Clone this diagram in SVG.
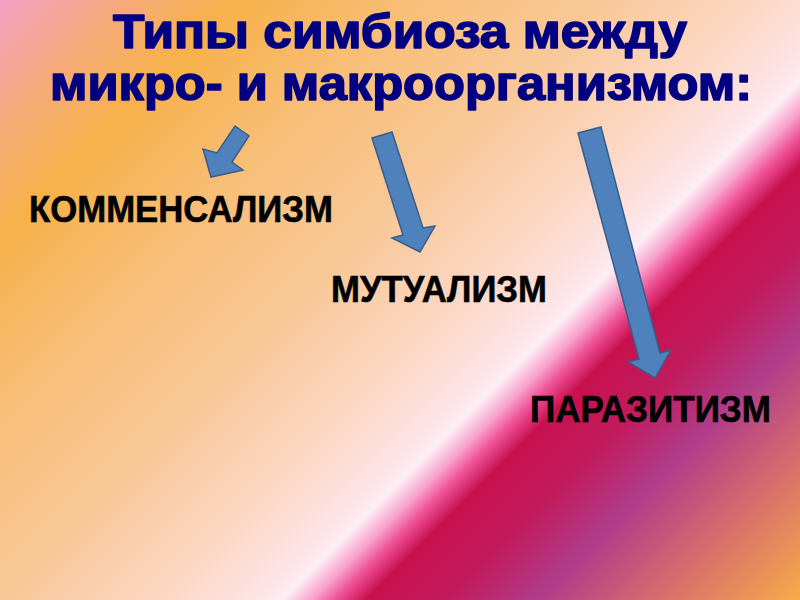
<svg xmlns="http://www.w3.org/2000/svg" width="800" height="600" viewBox="0 0 800 600">
  <defs>
    <linearGradient id="bg" gradientUnits="userSpaceOnUse" x1="0" y1="0" x2="700" y2="700">
      <stop offset="0" stop-color="#f5a0c6"/>
      <stop offset="0.09" stop-color="#f6ab7a"/>
      <stop offset="0.17" stop-color="#f7b14a"/>
      <stop offset="0.29" stop-color="#f8be76"/>
      <stop offset="0.43" stop-color="#f9c898"/>
      <stop offset="0.55" stop-color="#fcd8c6"/>
      <stop offset="0.61" stop-color="#fde4e6"/>
      <stop offset="0.63" stop-color="#fdedf4"/>
      <stop offset="0.65" stop-color="#f8a6cc"/>
      <stop offset="0.668" stop-color="#ef5298"/>
      <stop offset="0.69" stop-color="#c8104e"/>
      <stop offset="0.75" stop-color="#c11c5e"/>
      <stop offset="0.81" stop-color="#b03c8a"/>
      <stop offset="0.89" stop-color="#d4696e"/>
      <stop offset="1" stop-color="#f6ac48"/>
    </linearGradient>
    <style>
      .title { font-family: "Liberation Sans", Arial, sans-serif; font-weight: bold; font-size: 48px; fill: #000080; stroke: #000080; stroke-width: 1.6; stroke-linejoin: round; }
      .label { font-family: "Liberation Sans", Arial, sans-serif; font-weight: bold; font-size: 37px; fill: #000000; stroke: #000000; stroke-width: 0.6; }
      .arrow { fill: #4f81bd; stroke: #385d8a; stroke-width: 1.5; stroke-linejoin: miter; }
    </style>
  </defs>

  <rect x="0" y="0" width="800" height="600" fill="url(#bg)"/>

  <g id="title">
    <text class="title" x="400" y="48" text-anchor="middle" textLength="574" lengthAdjust="spacingAndGlyphs">Типы симбиоза между</text>
    <text class="title" x="401" y="100" text-anchor="middle" textLength="702" lengthAdjust="spacingAndGlyphs">микро- и макроорганизмом:</text>
  </g>

  <g id="commensalism">
    <text class="label" x="29" y="222" textLength="304" lengthAdjust="spacingAndGlyphs">КОММЕНСАЛИЗМ</text>
  </g>
  <g id="mutualism">
    <text class="label" x="331" y="302" textLength="216" lengthAdjust="spacingAndGlyphs">МУТУАЛИЗМ</text>
  </g>
  <g id="parasitism">
    <text class="label" x="530" y="422" textLength="241" lengthAdjust="spacingAndGlyphs">ПАРАЗИТИЗМ</text>
  </g>

  <g id="connectors">
    <polygon class="arrow" points="235,126 249,136 232,162 243,170 211,177 203,149 217,153"/>
    <polygon class="arrow" points="372,138 392,132 423,228 435,226 420,252 392,238 403,235"/>
    <polygon class="arrow" points="578,133 601,127 660,353 671,350 655,378 628,362 639,359"/>
  </g>
</svg>
